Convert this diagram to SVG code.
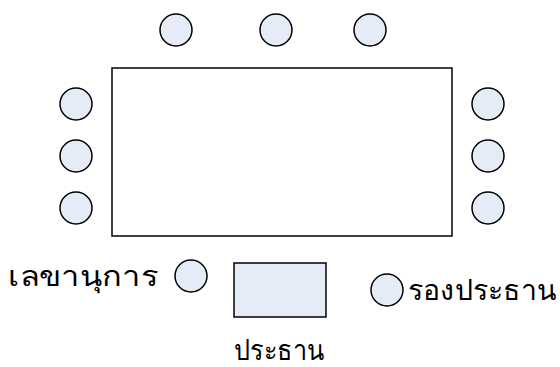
<svg xmlns="http://www.w3.org/2000/svg" width="560" height="367" viewBox="0 0 560 367">
<style>
.seat{fill:#e6ecf7;stroke:#000;stroke-width:1.5}
.table{fill:#fff;stroke:#000;stroke-width:1.5}
.lbl{font-family:"Noto Sans","DejaVu Sans",sans-serif;font-size:28px;font-weight:normal;fill:#000}
</style>
<rect width="560" height="367" fill="#fff"/>
<g id="table"><rect class="table" x="112" y="68" width="340" height="168"/></g>
<g id="seat-top-1"><circle class="seat" cx="176" cy="30" r="16"/></g>
<g id="seat-top-2"><circle class="seat" cx="276" cy="30" r="16"/></g>
<g id="seat-top-3"><circle class="seat" cx="370" cy="30" r="16"/></g>
<g id="seat-left-1"><circle class="seat" cx="76" cy="104" r="16"/></g>
<g id="seat-left-2"><circle class="seat" cx="76" cy="156" r="16"/></g>
<g id="seat-left-3"><circle class="seat" cx="76" cy="208" r="16"/></g>
<g id="seat-right-1"><circle class="seat" cx="488" cy="104" r="16"/></g>
<g id="seat-right-2"><circle class="seat" cx="488" cy="156" r="16"/></g>
<g id="seat-right-3"><circle class="seat" cx="488" cy="208" r="16"/></g>
<g id="secretary"><circle class="seat" cx="191" cy="276" r="16"/><text class="lbl" x="8" y="286" textLength="150" lengthAdjust="spacingAndGlyphs">เลขานุการ</text></g>
<g id="chairman"><rect class="seat" x="234" y="263" width="92" height="54"/><text class="lbl" x="234" y="360" textLength="90" lengthAdjust="spacingAndGlyphs">ประธาน</text></g>
<g id="vice-chairman"><circle class="seat" cx="387" cy="290" r="16"/><text class="lbl" x="408" y="300" textLength="148" lengthAdjust="spacingAndGlyphs">รองประธาน</text></g>
<g id="connectors"/>
</svg>
